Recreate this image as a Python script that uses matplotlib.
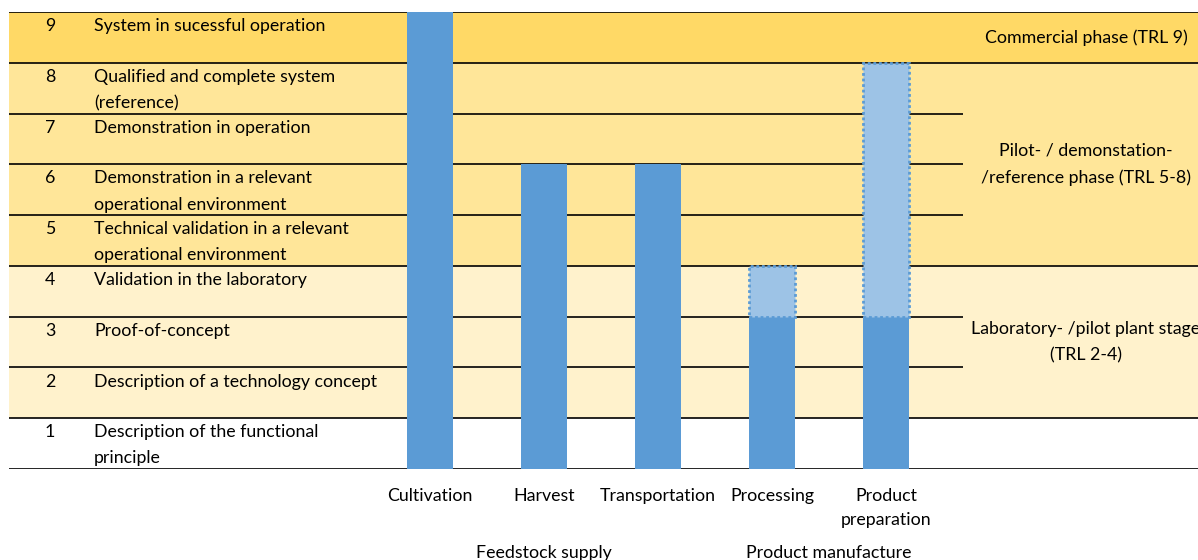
import matplotlib.pyplot as plt
from matplotlib.patches import Rectangle

# Chart data
categories = ["Cultivation", "Harvest", "Transportation", "Processing", "Product\npreparation"]
trl_reached = [9, 6, 6, 3, 3]
trl_expected = [9, 6, 6, 4, 8]
levels = [9, 8, 7, 6, 5, 4, 3, 2, 1]
descriptions = [
    "System in sucessful operation",
    "Qualified and complete system\n(reference)",
    "Demonstration in operation",
    "Demonstration in a relevant\noperational environment",
    "Technical validation in a relevant\noperational environment",
    "Validation in the laboratory",
    "Proof-of-concept",
    "Description of a technology concept",
    "Description of the functional\nprinciple",
]
phase_names = [
    "Commercial phase (TRL 9)",
    "Pilot- / demonstation-\n/reference phase (TRL 5-8)",
    "Laboratory- /pilot plant stage\n(TRL 2-4)",
]
phase_low = [8, 4, 1]
phase_high = [9, 8, 4]
groups = ["Feedstock supply", "Product manufacture"]
group_members = [[0, 1, 2], [3, 4]]

BAR = "#5B9BD5"
BAR_LIGHT = "#9DC3E6"
phase_colors = ["#FFD966", "#FFE699", "#FFF2CC"]

plt.rcParams["font.family"] = ["Lato", "DejaVu Sans"]
FS = 12.8
LS = 1.78

W, H = 1198, 560
fig = plt.figure(figsize=(W / 100, H / 100), dpi=100)

# axes: x in category units (114 px per category, first at px 430), y in TRL levels
px0, step = 430, 114
ax = fig.add_axes([0, (H - 469) / H, 1, 457 / H])
ax.set_xlim((0 - px0) / step, (W - px0) / step)
ax.set_ylim(0, 9)
ax.axis("off")

x_left = (9 - px0) / step
x_short = (963 - px0) / step
x_right = (W - px0) / step

# phase background bands
for lo, hi, c in zip(phase_low, phase_high, phase_colors):
    ax.add_patch(Rectangle((x_left, lo), x_right - x_left, hi - lo,
                           facecolor=c, edgecolor="none", zorder=0))

# horizontal row lines
boundaries = set([0] + phase_low + phase_high)
for lv in range(0, 10):
    xe = x_right if lv in boundaries else x_short
    ax.plot([x_left, xe], [lv, lv], color="black", lw=1.2, zorder=1,
            solid_capstyle="butt")

# bars
xs = list(range(len(categories)))
ax.bar(xs, trl_reached, width=0.4, color=BAR, zorder=3)
extra = [e - r for r, e in zip(trl_reached, trl_expected)]
for x, r, d in zip(xs, trl_reached, extra):
    if d > 0:
        ax.bar(x, d, bottom=r, width=0.4, color=BAR_LIGHT, edgecolor=BAR,
               linestyle=(0, (1, 1)), linewidth=2, zorder=3)

# left TRL descriptions
num_x = (50 - px0) / step
desc_x = (94 - px0) / step
for lv, txt in zip(levels, descriptions):
    ax.text(num_x, lv - 0.12, str(lv), ha="center", va="top", fontsize=FS,
            linespacing=LS, zorder=4)
    ax.text(desc_x, lv - 0.12, txt, ha="left", va="top", fontsize=FS,
            linespacing=LS, zorder=4)

# phase labels on the right (the lab label runs past the edge, as in the source)
lab_x = (1086 - px0) / step
for lo, hi, txt in zip(phase_low, phase_high, phase_names):
    ax.text(lab_x, (lo + hi) / 2, txt, ha="center", va="center", fontsize=FS,
            linespacing=LS, zorder=4, clip_on=False)

# category labels
for x, c in zip(xs, categories):
    ax.text(x, -0.38, c, ha="center", va="top", fontsize=FS, linespacing=1.6,
            clip_on=False)

# group labels
for g, members in zip(groups, group_members):
    gx = sum(members) / len(members)
    ax.text(gx, -1.5, g, ha="center", va="top", fontsize=FS, clip_on=False)

fig.savefig("out.png", dpi=100)
